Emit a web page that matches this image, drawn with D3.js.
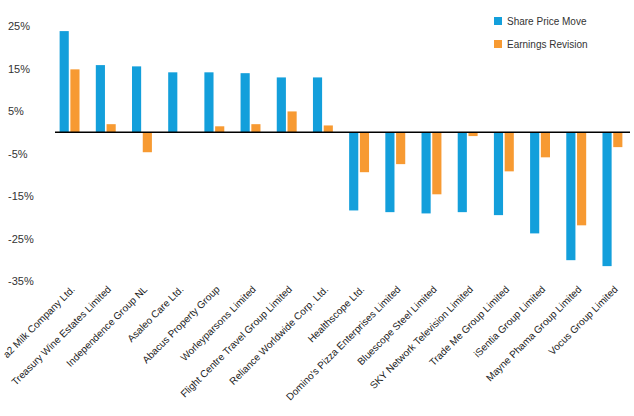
<!DOCTYPE html>
<html><head><meta charset="utf-8">
<script src="https://cdn.jsdelivr.net/npm/d3@7"></script>
<style>body{margin:0;background:#fff;font-family:"Liberation Sans",Arial,sans-serif;}</style>
</head><body><div id="chart"></div>
<script>
const companies = ["a2 Milk Company Ltd.","Treasury Wine Estates Limited","Independence Group NL","Asaleo Care Ltd.","Abacus Property Group","Worleyparsons Limited","Flight Centre Travel Group Limited","Reliance Worldwide Corp. Ltd.","Healthscope Ltd.","Domino's Pizza Enterprises Limited","Bluescope Steel Limited","SKY Network Television Limited","Trade Me Group Limited","iSentia Group Limited","Mayne Phama Group Limited","Vocus Group Limited"];
const sharePrice = [23.8,15.8,15.5,14.1,14.1,13.9,12.9,12.9,-18.4,-18.8,-19.1,-18.8,-19.5,-23.8,-30.1,-31.5];
const earnings = [14.8,1.9,-4.7,0,1.4,1.9,4.9,1.6,-9.4,-7.5,-14.6,-0.9,-9.2,-5.9,-21.9,-3.5];
const yTicks = [25,15,5,-5,-15,-25,-35];
const seriesNames = ["Share Price Move","Earnings Revision"];
const colors = ["#139fdb","#f79a32"];

const W = 634, H = 416;
const svg = d3.select("#chart").append("svg").attr("width", W).attr("height", H);

const y = d3.scaleLinear().domain([25,-35]).range([26,281]);
const x = d3.scaleBand().domain(companies).range([56,626]).paddingInner(0.45).paddingOuter(0.1);
const sub = d3.scaleBand().domain([0,1]).range([0,x.bandwidth()]).paddingInner(0.15);

svg.append("g").selectAll("text").data(yTicks).enter().append("text")
  .attr("x", 8).attr("y", d => y(d) + 4)
  .style("font-size", "11px").attr("fill", "#333")
  .text(d => d + "%");

const rows = companies.map((c, i) => ({c, vals: [sharePrice[i], earnings[i]]}));
const g = svg.append("g").selectAll("g").data(rows).enter().append("g")
  .attr("transform", d => `translate(${x(d.c)},0)`);
g.selectAll("rect").data(d => d.vals).enter().append("rect")
  .attr("x", (d, i) => sub(i)).attr("width", sub.bandwidth())
  .attr("y", d => y(Math.max(0, d))).attr("height", d => Math.abs(y(d) - y(0)))
  .attr("fill", (d, i) => colors[i]);

svg.append("line").attr("x1", 55).attr("x2", 630).attr("y1", y(0)).attr("y2", y(0))
  .attr("stroke", "#000").attr("stroke-width", 1.3);

svg.append("g").selectAll("text").data(companies).enter().append("text")
  .attr("transform", d => `translate(${x(d) + x.bandwidth()/2 + 6},290) rotate(-45)`)
  .attr("text-anchor", "end").style("font-size", "10px").attr("fill", "#222")
  .text(d => d);

const lg = svg.append("g").selectAll("g").data(seriesNames).enter().append("g")
  .attr("transform", (d, i) => `translate(494,${17 + i * 23})`);
lg.append("rect").attr("width", 8).attr("height", 8).attr("fill", (d, i) => colors[i]);
lg.append("text").attr("x", 13).attr("y", 8).style("font-size", "10px").attr("fill", "#333").text(d => d);
</script></body></html>
